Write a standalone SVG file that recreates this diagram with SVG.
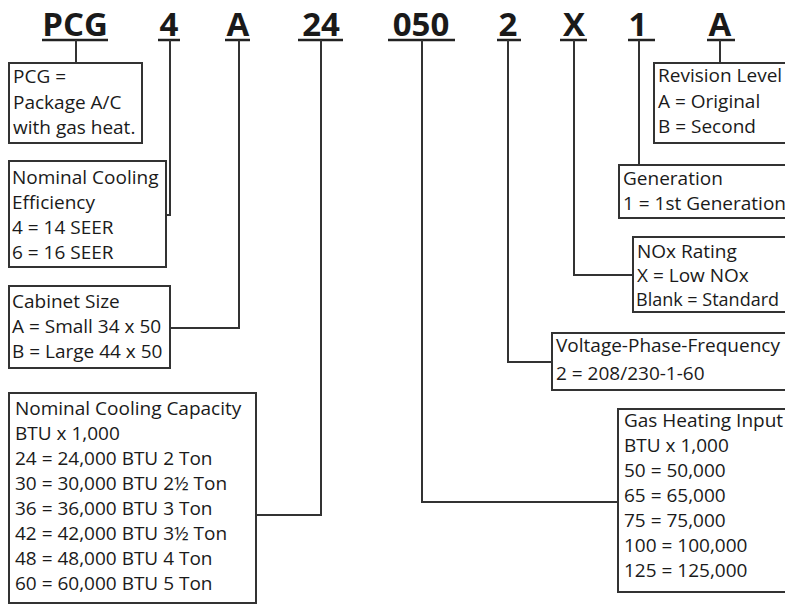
<svg xmlns="http://www.w3.org/2000/svg" width="785" height="605" viewBox="0 0 785 605">
<style>
.code{font-family:"Open Sans","Liberation Sans",sans-serif;font-weight:bold;font-size:33px;fill:#1a1a1a;text-anchor:middle}
.t{font-family:"Open Sans","Liberation Sans",sans-serif;font-size:19px;fill:#1a1a1a}
.box{fill:#fff;stroke:#333;stroke-width:2}
.ln{fill:none;stroke:#333;stroke-width:2}
.ul{stroke:#222;stroke-width:2.5}
</style>
<rect width="785" height="605" fill="#fff"/>
<g id="codes">
<text class="code" x="75" y="36">PCG</text><line class="ul" x1="42" y1="40" x2="108" y2="40"/>
<text class="code" x="169" y="36">4</text><line class="ul" x1="158" y1="40" x2="180" y2="40"/>
<text class="code" x="238" y="36">A</text><line class="ul" x1="225" y1="40" x2="250" y2="40"/>
<text class="code" x="321" y="36">24</text><line class="ul" x1="298" y1="40" x2="343" y2="40"/>
<text class="code" x="421" y="36">050</text><line class="ul" x1="388" y1="40" x2="455" y2="40"/>
<text class="code" x="508" y="36">2</text><line class="ul" x1="497" y1="40" x2="521" y2="40"/>
<text class="code" x="574" y="36">X</text><line class="ul" x1="560" y1="40" x2="587" y2="40"/>
<text class="code" x="638" y="36">1</text><line class="ul" x1="628" y1="40" x2="655" y2="40"/>
<text class="code" x="720" y="36">A</text><line class="ul" x1="707" y1="40" x2="735" y2="40"/>
</g>
<g id="connectors">
<path class="ln" d="M76 40V63"/>
<path class="ln" d="M170 40V215H166"/>
<path class="ln" d="M239 40V328H170"/>
<path class="ln" d="M321 40V515H256"/>
<path class="ln" d="M422 40V502H618"/>
<path class="ln" d="M508 40V362H552"/>
<path class="ln" d="M574 40V275H633"/>
<path class="ln" d="M639 40V165"/>
<path class="ln" d="M720 40V63"/>
</g>
<g id="pcg">
<rect class="box" x="9" y="63" width="133" height="80"/>
<text class="t" x="13" y="83">PCG =</text>
<text class="t" x="13" y="109">Package A/C</text>
<text class="t" x="13" y="134">with gas heat.</text>
</g>
<g id="efficiency">
<rect class="box" x="9" y="161" width="157" height="106"/>
<text class="t" x="12" y="184">Nominal Cooling</text>
<text class="t" x="12" y="209">Efficiency</text>
<text class="t" x="12" y="234">4 = 14 SEER</text>
<text class="t" x="12" y="259">6 = 16 SEER</text>
</g>
<g id="cabinet">
<rect class="box" x="9" y="286" width="161" height="82"/>
<text class="t" x="12" y="308">Cabinet Size</text>
<text class="t" x="12" y="333">A = Small 34 x 50</text>
<text class="t" x="12" y="358">B = Large 44 x 50</text>
</g>
<g id="capacity">
<rect class="box" x="9" y="393" width="247" height="210"/>
<text class="t" x="15" y="415">Nominal Cooling Capacity</text>
<text class="t" x="15" y="440">BTU x 1,000</text>
<text class="t" x="15" y="465">24 = 24,000 BTU 2 Ton</text>
<text class="t" x="15" y="490">30 = 30,000 BTU 2½ Ton</text>
<text class="t" x="15" y="515">36 = 36,000 BTU 3 Ton</text>
<text class="t" x="15" y="540">42 = 42,000 BTU 3½ Ton</text>
<text class="t" x="15" y="565">48 = 48,000 BTU 4 Ton</text>
<text class="t" x="15" y="590">60 = 60,000 BTU 5 Ton</text>
</g>
<g id="revision">
<rect class="box" x="654" y="63" width="140" height="80"/>
<text class="t" x="658" y="82">Revision Level</text>
<text class="t" x="658" y="108">A = Original</text>
<text class="t" x="658" y="133">B = Second</text>
</g>
<g id="generation">
<rect class="box" x="619" y="165" width="175" height="53"/>
<text class="t" x="623" y="185">Generation</text>
<text class="t" x="623" y="210">1 = 1st Generation</text>
</g>
<g id="nox">
<rect class="box" x="633" y="237" width="160" height="75"/>
<text class="t" x="637" y="258">NOx Rating</text>
<text class="t" x="637" y="282">X = Low NOx</text>
<text class="t" x="636" y="306" style="font-size:18px">Blank = Standard</text>
</g>
<g id="voltage">
<rect class="box" x="552" y="333" width="240" height="57"/>
<text class="t" x="556" y="352">Voltage-Phase-Frequency</text>
<text class="t" x="556" y="380">2 = 208/230-1-60</text>
</g>
<g id="gas">
<rect class="box" x="618" y="409" width="175" height="183"/>
<text class="t" x="624" y="427">Gas Heating Input</text>
<text class="t" x="624" y="452">BTU x 1,000</text>
<text class="t" x="624" y="477">50 = 50,000</text>
<text class="t" x="624" y="502">65 = 65,000</text>
<text class="t" x="624" y="527">75 = 75,000</text>
<text class="t" x="624" y="552">100 = 100,000</text>
<text class="t" x="624" y="577">125 = 125,000</text>
</g>
</svg>
